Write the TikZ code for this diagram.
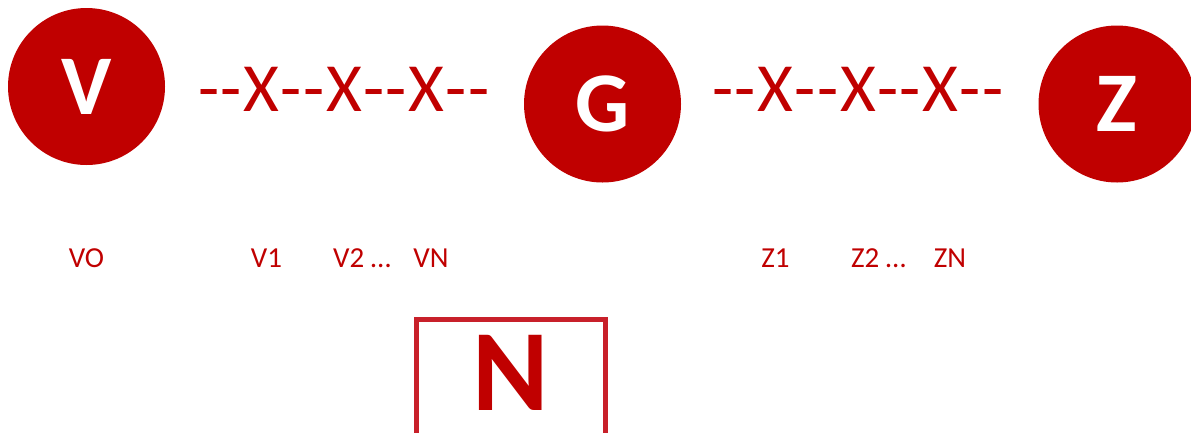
\documentclass[tikz,border=0pt]{standalone}
\usepackage{fontspec}
\setmainfont{Carlito}
\definecolor{deepred}{HTML}{C00000}
\definecolor{framered}{RGB}{200,32,42}
% spaced hyphen and cross for the chains
\newcommand{\hy}{{-}\kern1.5pt}
\newcommand{\xx}{X\kern1.5pt}
\begin{document}
\begin{tikzpicture}[x=1pt,y=-1pt,
  hub/.style={circle, fill=deepred, minimum size=157pt, inner sep=0pt,
    text=white, font=\fontsize{85}{85}\selectfont\bfseries},
  chain/.style={text=deepred, font=\fontsize{69}{69}\selectfont, inner sep=0pt},
  tag/.style={text=deepred, font=\fontsize{29}{29}\selectfont, inner sep=0pt},
  frame/.style={draw=framered, line width=5pt, minimum width=189pt,
    minimum height=130pt, inner sep=0pt},
  bigletter/.style={text=deepred, font=\fontsize{116}{116}\selectfont\bfseries, inner sep=0pt},
]
\useasboundingbox (0,0) rectangle (1191,432);
\clip (0,0) rectangle (1191,432);

% the three hubs
\node[hub] (V) at (86.5,86.5) {V};
\node[hub] (G) at (602.5,104) {G};
\node[hub] (Z) at (1117,104) {Z};

% chains between hubs
\node[chain] (VG) at (344,89) {\hy\hy\xx\hy\hy\xx\hy\hy\xx\hy{-}};
\node[chain] (GZ) at (858,89) {\hy\hy\xx\hy\hy\xx\hy\hy\xx\hy{-}};

% position labels
\node[tag] (VO) at (86.5,258) {VO};
\node[tag] (V1) at (266.5,258) {V1};
\node[tag] (V2) at (362,258) {V2 …};
\node[tag] (VN) at (431,258) {VN};
\node[tag] (Z1) at (775.5,258) {Z1};
\node[tag] (Z2) at (878.5,258) {Z2 …};
\node[tag] (ZN) at (950,258) {ZN};

% framed N
\node[frame] (Nbox) at (511,384.5) {};
\node[bigletter] (N) at (511,372.5) {N};
\end{tikzpicture}
\end{document}
